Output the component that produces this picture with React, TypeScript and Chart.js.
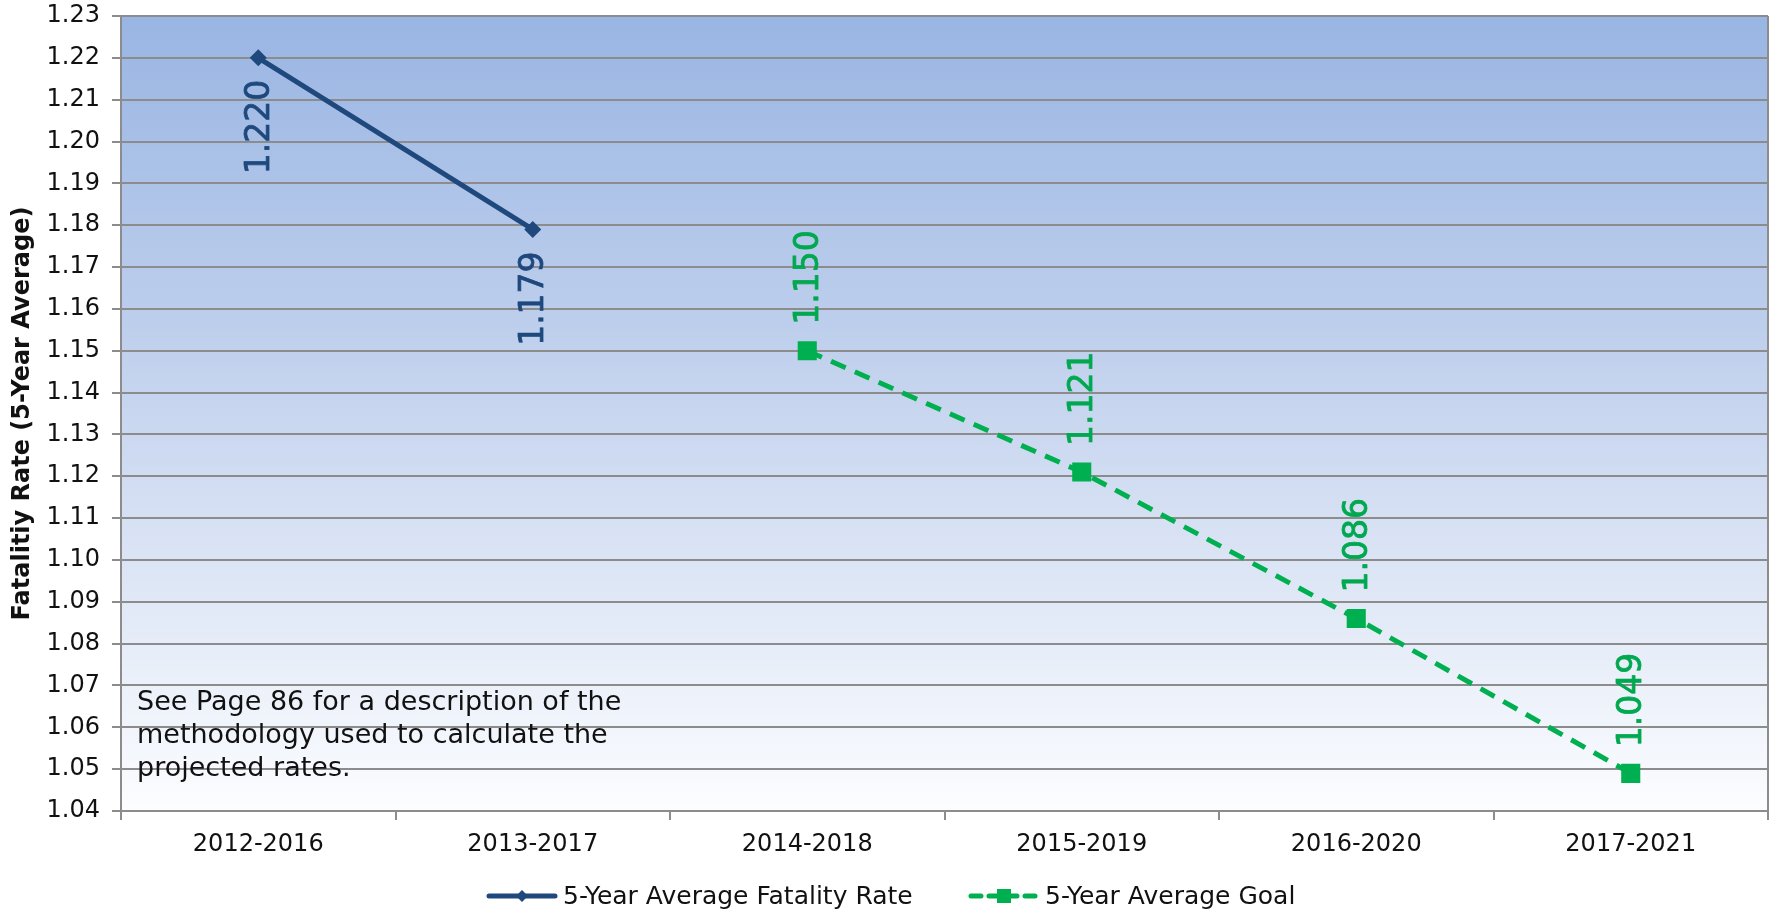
import React, { useEffect, useRef } from "react";
import { Chart, registerables } from "chart.js";

Chart.register(...registerables);

const categories = ["2012-2016", "2013-2017", "2014-2018", "2015-2019", "2016-2020", "2017-2021"];
const fatalityRate = [1.22, 1.179, null, null, null, null];
const averageGoal = [null, null, 1.15, 1.121, 1.086, 1.049];
const yTickMin = 1.04;
const yTickMax = 1.23;
const yTickStep = 0.01;
const seriesLabels = ["5-Year Average Fatality Rate", "5-Year Average Goal"];
const noteLines = [
  "See Page 86 for a description of the",
  "methodology used to calculate the",
  "projected rates.",
];
const yTitle = "Fatalitiy Rate (5-Year Average)";

const BLUE = "#1F497D";
const GREEN = "#00B050";
const GRID = "#8C8C8C";
const TICK_FONT = "'DejaVu Sans', Verdana, sans-serif";
const NOTE_FONT = "'DejaVu Sans', Tahoma, sans-serif";

const backgroundPlugin = {
  id: "plotBackground",
  beforeDraw(chart: any) {
    const { ctx, chartArea } = chart;
    if (!chartArea) return;
    const g = ctx.createLinearGradient(0, chartArea.top, 0, chartArea.bottom);
    g.addColorStop(0, "rgb(153,181,227)");
    g.addColorStop(0.5, "rgb(200,214,239)");
    g.addColorStop(1, "rgb(252,253,255)");
    ctx.save();
    ctx.fillStyle = g;
    ctx.fillRect(chartArea.left, chartArea.top, chartArea.right - chartArea.left, chartArea.bottom - chartArea.top);
    ctx.restore();
  },
  afterDraw(chart: any) {
    const { ctx, chartArea } = chart;
    ctx.save();
    ctx.strokeStyle = GRID;
    ctx.lineWidth = 2;
    ctx.beginPath();
    ctx.moveTo(chartArea.right, chartArea.top);
    ctx.lineTo(chartArea.right, chartArea.bottom);
    ctx.stroke();
    ctx.restore();
  },
};

const notePlugin = {
  id: "noteText",
  afterDatasetsDraw(chart: any) {
    const { ctx, chartArea } = chart;
    ctx.save();
    ctx.font = `27px ${NOTE_FONT}`;
    ctx.fillStyle = "#111111";
    ctx.textBaseline = "alphabetic";
    ctx.textAlign = "left";
    const x0 = chartArea.left + 16;
    const yBase = chartArea.bottom - 101;
    noteLines.forEach((line, i) => ctx.fillText(line, x0, yBase + i * 33));
    ctx.restore();
  },
};

const dataLabelPlugin = {
  id: "rotatedLabels",
  afterDatasetsDraw(chart: any) {
    const { ctx } = chart;
    chart.data.datasets.forEach((ds: any, di: number) => {
      const meta = chart.getDatasetMeta(di);
      meta.data.forEach((pt: any, i: number) => {
        const v = ds.data[i];
        if (v === null || v === undefined) return;
        ctx.save();
        ctx.font = `33px ${TICK_FONT}`;
        ctx.fillStyle = ds.labelColor;
        ctx.strokeStyle = ds.labelColor;
        ctx.lineWidth = 0.8;
        ctx.translate(pt.x, pt.y);
        ctx.rotate(-Math.PI / 2);
        ctx.textBaseline = "middle";
        const txt = v.toFixed(3);
        if (ds.labelBelow) {
          ctx.textAlign = "right";
          ctx.fillText(txt, -22, 2);
          ctx.strokeText(txt, -22, 2);
        } else {
          ctx.textAlign = "left";
          ctx.fillText(txt, 26, 2);
          ctx.strokeText(txt, 26, 2);
        }
        ctx.restore();
      });
    });
  },
};

const legendPlugin = {
  id: "customLegend",
  afterDraw(chart: any) {
    const { ctx } = chart;
    const y = 896;
    const items = [
      { x: 487, ds: chart.data.datasets[0] },
      { x: 969, ds: chart.data.datasets[1] },
    ];
    items.forEach(({ x, ds }) => {
      ctx.save();
      ctx.strokeStyle = ds.borderColor;
      ctx.lineWidth = 5;
      ctx.lineCap = "round";
      if (ds.borderDash && ds.borderDash.length) ctx.setLineDash([10, 8]);
      ctx.beginPath();
      ctx.moveTo(x + 2, y);
      ctx.lineTo(x + 68, y);
      ctx.stroke();
      ctx.setLineDash([]);
      ctx.fillStyle = ds.pointBackgroundColor;
      const cx = x + 35;
      if (ds.pointStyle === "rectRot") {
        ctx.beginPath();
        ctx.moveTo(cx, y - 6);
        ctx.lineTo(cx + 6, y);
        ctx.lineTo(cx, y + 6);
        ctx.lineTo(cx - 6, y);
        ctx.closePath();
        ctx.fill();
      } else {
        ctx.fillRect(cx - 7, y - 7, 14, 14);
      }
      ctx.fillStyle = "#111111";
      ctx.font = `25px ${NOTE_FONT}`;
      ctx.textBaseline = "middle";
      ctx.textAlign = "left";
      ctx.fillText(ds.label, x + 76, y + 1);
      ctx.restore();
    });
  },
};

export default function App() {
  const ref = useRef<HTMLCanvasElement>(null);
  useEffect(() => {
    document.body.style.margin = "0";
    const canvas = ref.current!;
    const chart = new Chart(canvas, {
      type: "line",
      data: {
        labels: categories,
        datasets: [
          {
            label: seriesLabels[0],
            data: fatalityRate,
            borderColor: BLUE,
            backgroundColor: BLUE,
            pointBackgroundColor: BLUE,
            pointBorderColor: BLUE,
            borderWidth: 5,
            pointStyle: "rectRot",
            pointRadius: 8.5,
            pointBorderWidth: 0,
            spanGaps: false,
            labelColor: BLUE,
            labelBelow: true,
          } as any,
          {
            label: seriesLabels[1],
            data: averageGoal,
            borderColor: GREEN,
            backgroundColor: GREEN,
            pointBackgroundColor: GREEN,
            pointBorderColor: GREEN,
            borderWidth: 5,
            borderDash: [16, 10],
            pointStyle: "rect",
            pointRadius: 13.5,
            pointBorderWidth: 0,
            labelColor: "#00A84F",
            labelBelow: false,
          } as any,
        ],
      },
      options: {
        responsive: false,
        animation: false,
        layout: { padding: { top: 16, right: 19, left: 0, bottom: 0 } },
        plugins: {
          legend: { display: false },
          tooltip: { enabled: false },
        },
        scales: {
          x: {
            offset: true,
            grid: {
              offset: true,
              drawOnChartArea: false,
              drawTicks: true,
              tickLength: 9,
              color: GRID,
              lineWidth: 2,
            },
            border: { color: GRID, width: 2 },
            ticks: {
              color: "#111111",
              font: { family: TICK_FONT, size: 24 },
              padding: 10,
              maxRotation: 0,
            },
            afterFit(scale: any) {
              scale.height = 103;
              scale.paddingLeft = 0;
              scale.paddingRight = 0;
            },
          },
          y: {
            min: yTickMin,
            max: yTickMax,
            grid: { color: GRID, lineWidth: 2, tickLength: 9 },
            border: { color: GRID, width: 2 },
            ticks: {
              stepSize: yTickStep,
              color: "#111111",
              font: { family: TICK_FONT, size: 24 },
              padding: 12,
              callback: (v: any) => Number(v).toFixed(2),
            },
            title: {
              display: true,
              text: yTitle,
              color: "#111111",
              font: { family: TICK_FONT, size: 24, weight: "bold" },
              padding: { top: 8, bottom: 0 },
            },
            afterFit(scale: any) {
              scale.width = 121;
              scale.paddingTop = 0;
              scale.paddingBottom = 0;
            },
          },
        },
      },
      plugins: [backgroundPlugin, notePlugin, dataLabelPlugin, legendPlugin],
    });
    return () => chart.destroy();
  }, []);
  return (
    <div style={{ position: "absolute", left: 0, top: 0, width: 1787, height: 914 }}>
      <canvas ref={ref} width={1787} height={914} style={{ display: "block" }} />
    </div>
  );
}
